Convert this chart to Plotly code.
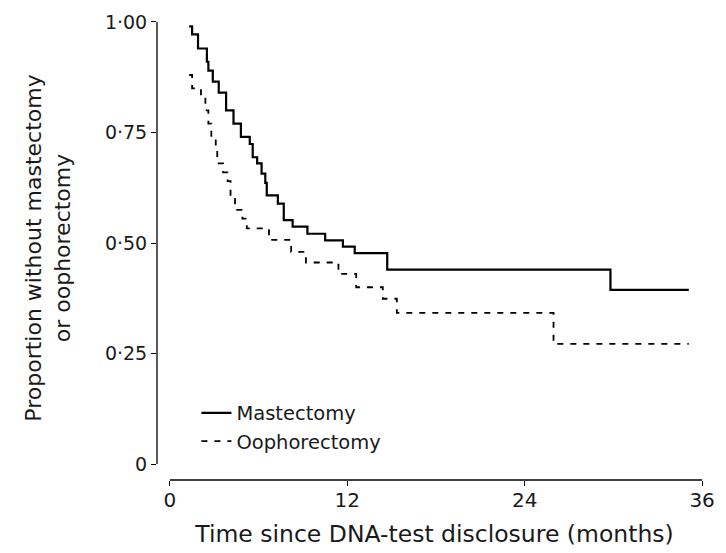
import plotly.graph_objects as go

# Mastectomy (solid) Kaplan-Meier steps
mast_t = [1.3, 1.5, 1.9, 2.5, 2.6, 2.9, 3.3, 3.8, 4.3, 4.8, 5.4, 5.6, 5.9, 6.2, 6.45, 6.55,
          7.3, 7.7, 8.3, 9.3, 10.5, 11.7, 12.5, 14.7, 29.8, 35.1]
mast_s = [0.99, 0.972, 0.94, 0.91, 0.89, 0.865, 0.84, 0.80, 0.77, 0.74, 0.724, 0.694, 0.68,
          0.657, 0.636, 0.608, 0.589, 0.552, 0.537, 0.521, 0.506, 0.492, 0.477, 0.44, 0.394, 0.394]

# Oophorectomy (dashed) Kaplan-Meier steps
ooph_t = [1.3, 1.5, 2.1, 2.4, 2.6, 2.8, 3.1, 3.2, 3.6, 3.9, 4.1, 4.4, 4.9, 5.2, 6.7, 8.2,
          9.2, 11.4, 12.6, 14.4, 15.35, 25.95, 35.1]
ooph_s = [0.88, 0.85, 0.83, 0.80, 0.77, 0.74, 0.71, 0.68, 0.66, 0.64, 0.60, 0.575, 0.555,
          0.533, 0.507, 0.48, 0.456, 0.43, 0.40, 0.374, 0.342, 0.272, 0.272]

y_ticks = [0, 0.25, 0.5, 0.75, 1.0]
y_labels = ["0", "0·25", "0·50", "0·75", "1·00"]
x_ticks = [0, 12, 24, 36]
x_labels = ["0", "12", "24", "36"]

FONT = "DejaVu Sans, sans-serif"
TXT = "#1a1a1a"

fig = go.Figure()
fig.add_trace(go.Scatter(x=mast_t, y=mast_s, mode="lines", name="Mastectomy",
                         line=dict(color="black", width=2.2, shape="hv")))
fig.add_trace(go.Scatter(x=ooph_t, y=ooph_s, mode="lines", name="Oophorectomy",
                         line=dict(color="black", width=1.8, shape="hv", dash="6px,7px")))

# detached axis lines
fig.add_shape(type="line", xref="x", yref="paper", x0=x_ticks[0], x1=x_ticks[-1], y0=0, y1=0,
              line=dict(color="black", width=1.3))
fig.add_shape(type="line", xref="paper", yref="y", x0=0, x1=0, y0=y_ticks[0], y1=y_ticks[-1],
              line=dict(color="black", width=1.3))

fig.update_layout(
    width=726, height=553,
    margin=dict(l=157, r=11, t=15, b=72),
    paper_bgcolor="white", plot_bgcolor="white",
    font=dict(family=FONT, size=19, color=TXT),
    showlegend=True,
    legend=dict(x=0.071, y=0.186, xanchor="left", yanchor="top",
                bgcolor="rgba(0,0,0,0)", font=dict(size=19.5, color=TXT),
                itemwidth=30, tracegroupgap=0),
    xaxis=dict(range=[-0.875, 36.67], tickvals=x_ticks, ticktext=x_labels,
               showgrid=False, zeroline=False, showline=False,
               ticks="outside", ticklen=5, tickcolor="black", tickwidth=1.2,
               ticklabelstandoff=-3,
               tickfont=dict(size=20, color=TXT),
               title=dict(text="Time since DNA-test disclosure (months)",
                          font=dict(size=23.5, color=TXT), standoff=14)),
    yaxis=dict(range=[-0.036, 1.0135], tickvals=y_ticks, ticktext=y_labels,
               showgrid=False, zeroline=False, showline=False,
               ticks="outside", ticklen=5, tickcolor="black", tickwidth=1.2,
               tickfont=dict(size=19, color=TXT),
               title=dict(text="Proportion without mastectomy<br>or oophorectomy",
                          font=dict(size=22, color=TXT), standoff=28)),
)

fig.write_html("out.html")
